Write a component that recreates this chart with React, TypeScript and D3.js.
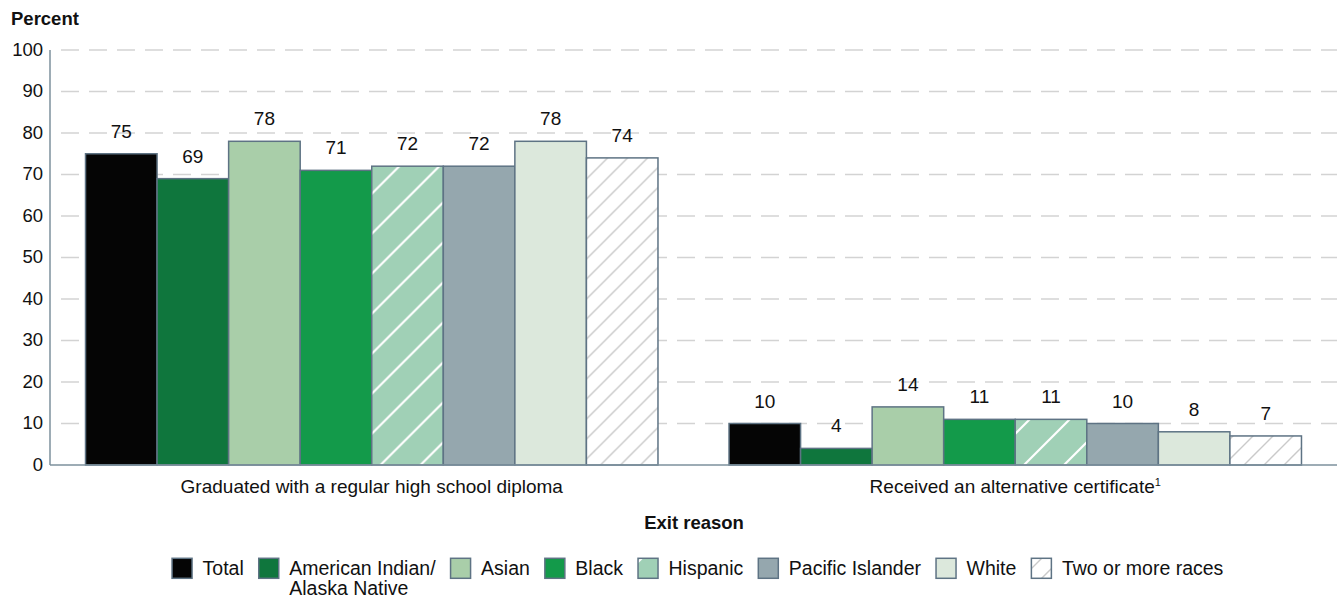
import React from "react";
import * as d3 from "d3";

// Exit reasons (x-axis categories)
const categories = [
  "Graduated with a regular high school diploma",
  "Received an alternative certificate",
];

// Race/ethnicity groups (one bar each per category)
const groups = [
  "Total",
  "American Indian/Alaska Native",
  "Asian",
  "Black",
  "Hispanic",
  "Pacific Islander",
  "White",
  "Two or more races",
];

// Percent values per group
const graduatedValues = [75, 69, 78, 71, 72, 72, 78, 74];
const alternativeValues = [10, 4, 14, 11, 11, 10, 8, 7];

const yTicks = [0, 10, 20, 30, 40, 50, 60, 70, 80, 90, 100];

const fills = [
  "#050505",
  "#0f763d",
  "#a9cea9",
  "#139a4a",
  "url(#hatchHispanic)",
  "#95a7ae",
  "#dce8dc",
  "url(#hatchMulti)",
];

const FONT = "'Liberation Sans', Arial, Helvetica, sans-serif";
const FS_TICK = 18.5;
const FS_LABEL = 19;
const FS_LEGEND = 19.5;
const W = 1337;
const H = 598;
const BAR_STROKE = "#5e7384";

function measure(text: string, size: number, weight = "normal"): number {
  const c = document.createElement("canvas").getContext("2d");
  if (!c) return text.length * size * 0.5;
  c.font = `${weight} ${size}px ${FONT}`;
  return c.measureText(text).width;
}

export default function App() {
  const left = 50;
  const right = W;
  const y = d3.scaleLinear().domain([0, 100]).range([465, 50]);
  const x0 = d3
    .scaleBand<string>()
    .domain(categories)
    .range([left, right])
    .paddingInner(0.1104)
    .paddingOuter(0.0552);
  const x1 = d3
    .scaleBand<string>()
    .domain(groups)
    .range([0, x0.bandwidth()]);

  const series = [graduatedValues, alternativeValues];

  // Legend layout: swatch, gap, text, gap
  const sw = 20;
  const legendItems = groups.map((g, i) => {
    const lines = g === "American Indian/Alaska Native" ? ["American Indian/", "Alaska Native"] : [g];
    const tw = Math.max(...lines.map((l) => measure(l, FS_LEGEND)));
    return { g, i, lines, tw };
  });
  const textGap = 10.5;
  const itemGap = 15;
  const totalLegend = legendItems.reduce((s, it) => s + sw + textGap + it.tw + itemGap, 0) - itemGap;
  let cursor = 697.7 - totalLegend / 2;
  const legendPos = legendItems.map((it) => {
    const x = cursor;
    cursor += sw + textGap + it.tw + itemGap;
    return { ...it, x };
  });

  return (
    <svg
      width={W}
      height={H}
      style={{ position: "absolute", left: 0, top: 0, background: "#fff" }}
      fontFamily={FONT}
    >
      <defs>
        <pattern id="hatchHispanic" patternUnits="userSpaceOnUse" width={40} height={40}>
          <rect width={40} height={40} fill="#a0d0b6" />
          <path
            d="M-10,10 L10,-10 M0,40 L40,0 M30,50 L50,30"
            stroke="#ffffff"
            strokeWidth={2.2}
          />
        </pattern>
        <pattern id="hatchMulti" patternUnits="userSpaceOnUse" width={20} height={20}>
          <rect width={20} height={20} fill="#ffffff" />
          <path
            d="M-5,5 L5,-5 M0,20 L20,0 M15,25 L25,15"
            stroke="#c9c9c9"
            strokeWidth={1.4}
          />
        </pattern>
      </defs>

      {/* y-axis title */}
      <text x={11} y={25} fontSize={FS_TICK} fontWeight="bold" fill="#111">
        Percent
      </text>

      {/* gridlines */}
      {yTicks
        .filter((t) => t > 0)
        .map((t) => (
          <line
            key={t}
            x1={61}
            x2={W}
            y1={y(t)}
            y2={y(t)}
            stroke="#d3d3d3"
            strokeWidth={1.3}
            strokeDasharray="18 10"
          />
        ))}

      {/* tick labels */}
      {yTicks.map((t) => (
        <text key={t} x={43} y={y(t) + 5.5} textAnchor="end" fontSize={FS_TICK} fill="#111">
          {t}
        </text>
      ))}

      {/* bars */}
      {categories.map((c, ci) => (
        <g key={c} transform={`translate(${x0(c)},0)`}>
          {groups.map((g, gi) => {
            const v = series[ci][gi];
            const bx = x1(g) as number;
            return (
              <g key={g}>
                <rect
                  x={bx}
                  y={y(v)}
                  width={x1.bandwidth()}
                  height={y(0) - y(v)}
                  fill={fills[gi]}
                  stroke={BAR_STROKE}
                  strokeWidth={1.5}
                />
                <text
                  x={bx + x1.bandwidth() / 2}
                  y={y(v) - 16}
                  textAnchor="middle"
                  fontSize={FS_LABEL}
                  fill="#111"
                >
                  {v}
                </text>
              </g>
            );
          })}
        </g>
      ))}

      {/* axes */}
      <line x1={left} x2={left} y1={y(100)} y2={y(0)} stroke="#7d909c" strokeWidth={1.5} />
      <line x1={left} x2={W} y1={y(0)} y2={y(0)} stroke="#7d909c" strokeWidth={1.5} />

      {/* category labels */}
      <text
        x={(x0(categories[0]) as number) + x0.bandwidth() / 2}
        y={493}
        textAnchor="middle"
        fontSize={FS_LABEL}
        fill="#111"
      >
        {categories[0]}
      </text>
      <text
        x={(x0(categories[1]) as number) + x0.bandwidth() / 2}
        y={493}
        textAnchor="middle"
        fontSize={FS_LABEL}
        fill="#111"
      >
        {categories[1]}
        <tspan fontSize={11} dy={-7}>
          1
        </tspan>
      </text>

      {/* x-axis title */}
      <text x={694} y={529} textAnchor="middle" fontSize={FS_TICK} fontWeight="bold" fill="#111">
        Exit reason
      </text>

      {/* legend */}
      {legendPos.map((it) => (
        <g key={it.g}>
          <rect
            x={it.x}
            y={558.3}
            width={sw}
            height={sw}
            fill={fills[it.i]}
            stroke={BAR_STROKE}
            strokeWidth={1.5}
          />
          <text x={it.x + sw + textGap} y={575.3} fontSize={FS_LEGEND} fill="#111">
            {it.lines.map((l, li) => (
              <tspan key={li} x={it.x + sw + textGap} dy={li === 0 ? 0 : 20}>
                {l}
              </tspan>
            ))}
          </text>
        </g>
      ))}
    </svg>
  );
}
